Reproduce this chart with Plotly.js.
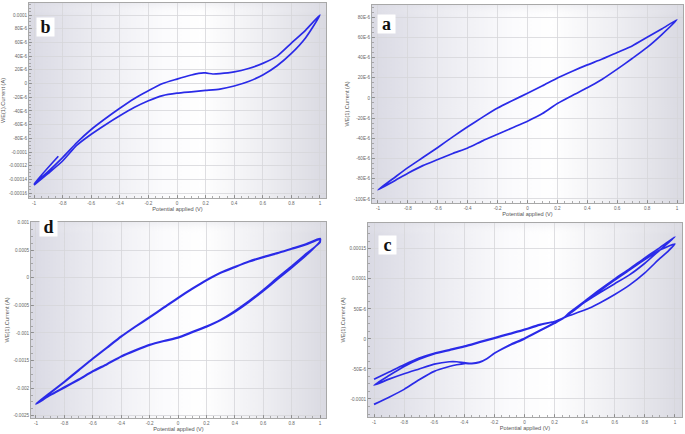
<!DOCTYPE html>
<html>
<head>
<meta charset="utf-8">
<script src="https://cdn.plot.ly/plotly-3.0.1.min.js"></script>
<style>html,body{margin:0;padding:0;background:#fff;}#chart{width:685px;height:434px;}</style>
</head>
<body>
<div id="chart"></div>
<script>
// ---------- DATA ----------
// Panel b
const bPot = [-0.83, -1, -0.9, -0.8, -0.7, -0.6, -0.5, -0.4, -0.3, -0.2, -0.1, 0, 0.1, 0.15, 0.2, 0.25, 0.3, 0.4, 0.5, 0.6, 0.7, 0.8, 0.9, 1,
              0.9, 0.8, 0.7, 0.6, 0.5, 0.4, 0.3, 0.2, 0.1, 0, -0.1, -0.2, -0.3, -0.4, -0.5, -0.6, -0.7, -0.8, -0.9, -1];
const bCur = [-106e-6, -146e-6, -128e-6, -108e-6, -86e-6, -67e-6, -51e-6, -36e-6, -22e-6, -10.5e-6, 0e-6, 6.5e-6, 12.5e-6, 15e-6, 15.5e-6, 14e-6, 14.5e-6, 17e-6, 22e-6, 29.5e-6, 40e-6, 59e-6, 78e-6, 100e-6,
              67e-6, 44e-6, 26e-6, 12.5e-6, 3e-6, -3.5e-6, -8e-6, -10e-6, -12e-6, -14e-6, -17.5e-6, -25e-6, -35e-6, -47e-6, -60e-6, -74e-6, -90e-6, -113e-6, -131e-6, -148e-6];

// Panel a
const aPot = [-1, -0.9, -0.8, -0.7, -0.6, -0.5, -0.4, -0.3, -0.2, -0.1, 0, 0.1, 0.2, 0.3, 0.4, 0.5, 0.6, 0.7, 0.8, 0.9, 1,
              0.9, 0.8, 0.7, 0.6, 0.5, 0.4, 0.3, 0.2, 0.1, 0, -0.1, -0.2, -0.3, -0.4, -0.5, -0.6, -0.7, -0.8, -0.9, -1];
const aCur = [-91e-6, -83e-6, -74.5e-6, -67e-6, -61e-6, -55e-6, -49.5e-6, -42.5e-6, -36e-6, -29.5e-6, -23e-6, -15.5e-6, -5.5e-6, 2.5e-6, 10e-6, 18.5e-6, 28.5e-6, 39e-6, 50e-6, 63e-6, 77.4e-6,
              68.5e-6, 60e-6, 51.5e-6, 45e-6, 38.5e-6, 32.7e-6, 26.5e-6, 19.8e-6, 12e-6, 4.6e-6, -2.5e-6, -10e-6, -19e-6, -28.5e-6, -38.5e-6, -49e-6, -59e-6, -69e-6, -80e-6, -91e-6];

// Panel d (two cycles)
const dPot = [-1, -0.9, -0.8, -0.7, -0.6, -0.5, -0.4, -0.3, -0.2, -0.1, 0, 0.1, 0.2, 0.3, 0.4, 0.5, 0.6, 0.7, 0.8, 0.9, 1,
              1, 0.9, 0.8, 0.7, 0.6, 0.5, 0.4, 0.3, 0.2, 0.1, 0, -0.1, -0.2, -0.3, -0.4, -0.5, -0.6, -0.7, -0.8, -0.9, -1,
              -0.9, -0.8, -0.7, -0.6, -0.5, -0.4, -0.3, -0.2, -0.1, 0, 0.1, 0.2, 0.3, 0.4, 0.5, 0.6, 0.7, 0.8, 0.9, 1,
              1, 0.9, 0.8, 0.7, 0.6, 0.5, 0.4, 0.3, 0.2, 0.1, 0, -0.1, -0.2, -0.3, -0.4, -0.5, -0.6, -0.7, -0.8, -0.9, -1];
const dCur = [-2.29e-3, -2.13e-3, -1.99e-3, -1.85e-3, -1.70e-3, -1.57e-3, -1.43e-3, -1.32e-3, -1.22e-3, -1.15e-3, -1.09e-3, -0.99e-3, -0.89e-3, -0.77e-3, -0.62e-3, -0.44e-3, -0.24e-3, -0.03e-3, 0.18e-3, 0.40e-3, 0.66e-3,
              0.71e-3, 0.61e-3, 0.53e-3, 0.45e-3, 0.38e-3, 0.30e-3, 0.20e-3, 0.095e-3, -0.04e-3, -0.195e-3, -0.36e-3, -0.535e-3, -0.71e-3, -0.88e-3, -1.06e-3, -1.26e-3, -1.46e-3, -1.67e-3, -1.88e-3, -2.08e-3, -2.28e-3,
              -2.12e-3, -1.98e-3, -1.84e-3, -1.69e-3, -1.56e-3, -1.42e-3, -1.31e-3, -1.21e-3, -1.14e-3, -1.08e-3, -0.98e-3, -0.88e-3, -0.76e-3, -0.60e-3, -0.42e-3, -0.22e-3, 0.0e-3, 0.21e-3, 0.43e-3, 0.64e-3,
              0.69e-3, 0.60e-3, 0.52e-3, 0.44e-3, 0.37e-3, 0.29e-3, 0.19e-3, 0.085e-3, -0.05e-3, -0.205e-3, -0.37e-3, -0.545e-3, -0.72e-3, -0.89e-3, -1.07e-3, -1.27e-3, -1.47e-3, -1.68e-3, -1.89e-3, -2.09e-3, -2.29e-3];

// Panel c (two cycles)
const cPot = [-1, -0.9, -0.8, -0.7, -0.6, -0.5, -0.45, -0.4, -0.35, -0.3, -0.25, -0.2, -0.1, 0, 0.1, 0.2, 0.25, 0.3, 0.4, 0.5, 0.6, 0.7, 0.8, 0.9, 1,
              0.9, 0.8, 0.7, 0.6, 0.5, 0.4, 0.3, 0.25, 0.2, 0.1, 0, -0.1, -0.2, -0.3, -0.4, -0.5, -0.6, -0.7, -0.8, -0.9, -1,
              -0.9, -0.8, -0.7, -0.6, -0.5, -0.45, -0.4, -0.35, -0.3, -0.25, -0.2, -0.1, 0, 0.1, 0.2, 0.25, 0.3, 0.4, 0.5, 0.6, 0.7, 0.8, 0.9, 1,
              0.95, 0.9, 0.8, 0.7, 0.6, 0.5, 0.4, 0.3, 0.25, 0.2, 0.1, 0, -0.1, -0.2, -0.3, -0.4, -0.5, -0.6, -0.7, -0.8, -0.9, -1];
const cCur = [-109e-6, -97e-6, -84e-6, -68e-6, -54e-6, -46e-6, -43e-6, -41e-6, -41e-6, -39e-6, -33e-6, -24e-6, -11e-6, 0, 13e-6, 26e-6, 33e-6, 44e-6, 63e-6, 82e-6, 100e-6, 117e-6, 135e-6, 152e-6, 170e-6,
              148e-6, 126e-6, 107e-6, 92e-6, 77e-6, 61e-6, 42e-6, 34e-6, 29e-6, 23e-6, 15e-6, 8e-6, 1e-6, -6e-6, -13e-6, -19e-6, -25e-6, -34e-6, -46e-6, -61e-6, -77e-6,
              -67e-6, -58e-6, -50e-6, -42e-6, -38e-6, -38e-6, -39.5e-6, -40.5e-6, -38.5e-6, -33e-6, -24e-6, -10e-6, 1e-6, 14e-6, 27e-6, 33e-6, 44e-6, 62e-6, 80e-6, 98e-6, 115e-6, 132e-6, 148e-6, 158e-6,
              145e-6, 134e-6, 110e-6, 90e-6, 74e-6, 60e-6, 48e-6, 39e-6, 34e-6, 29e-6, 24e-6, 16e-6, 9e-6, 2e-6, -5e-6, -12e-6, -18e-6, -24e-6, -32e-6, -43e-6, -55e-6, -67e-6];

// Tick labels
const xTickVals = [-1, -0.8, -0.6, -0.4, -0.2, 0, 0.2, 0.4, 0.6, 0.8, 1];
const xTickText = ['-1', '-0.8', '-0.6', '-0.4', '-0.2', '0', '0.2', '0.4', '0.6', '0.8', '1'];
const bTickVals = [-160e-6, -140e-6, -120e-6, -100e-6, -80e-6, -60e-6, -40e-6, -20e-6, 0, 20e-6, 40e-6, 60e-6, 80e-6, 100e-6];
const bTickText = ['-0.00016', '-0.00014', '-0.00012', '-0.0001', '-80E-6', '-60E-6', '-40E-6', '-20E-6', '0', '20E-6', '40E-6', '60E-6', '80E-6', '0.0001'];
const aTickVals = [-100e-6, -80e-6, -60e-6, -40e-6, -20e-6, 0, 20e-6, 40e-6, 60e-6, 80e-6];
const aTickText = ['-100E-6', '-80E-6', '-60E-6', '-40E-6', '-20E-6', '0', '20E-6', '40E-6', '60E-6', '80E-6'];
const dTickVals = [-0.0025, -0.002, -0.0015, -0.001, -0.0005, 0, 0.0005, 0.001];
const dTickText = ['-0.0025', '-0.002', '-0.0015', '-0.001', '-0.0005', '0', '0.0005', '0.001'];
const cTickVals = [-100e-6, -50e-6, 0, 50e-6, 100e-6, 150e-6];
const cTickText = ['-0.0001', '-50E-6', '0', '50E-6', '0.0001', '0.00015'];

const panelLetters = ['b', 'a', 'd', 'c'];
const xTitle = 'Potential applied (V)';
const yTitle = 'WE(1).Current (A)';

// ---------- STYLE ----------
const lineColor = '#2a2ae8';
const tickFont = {family: 'Liberation Sans, Arial, sans-serif', size: 4.6, color: '#666'};
const titleFont = {family: 'Liberation Sans, Arial, sans-serif', size: 5.6, color: '#555'};

// gradient background image
function gradientURL() {
  const cv = document.createElement('canvas');
  cv.width = 400; cv.height = 200;
  const ctx = cv.getContext('2d');
  const g = ctx.createLinearGradient(0, 0, 400, 0);
  g.addColorStop(0, '#dadae4');
  g.addColorStop(0.2, '#eaeaf0');
  g.addColorStop(0.45, '#fbfbfd');
  g.addColorStop(0.58, '#ffffff');
  g.addColorStop(0.78, '#efeff3');
  g.addColorStop(1, '#dadae2');
  ctx.fillStyle = g;
  ctx.fillRect(0, 0, 400, 200);
  const v = ctx.createLinearGradient(0, 0, 0, 200);
  v.addColorStop(0, 'rgba(220,220,228,0.35)');
  v.addColorStop(0.06, 'rgba(255,255,255,0)');
  v.addColorStop(1, 'rgba(255,255,255,0)');
  ctx.fillStyle = v;
  ctx.fillRect(0, 0, 400, 200);
  return cv.toDataURL('image/png');
}
const bgURL = gradientURL();

function xAx(domain, range, anchor) {
  return {
    domain: domain, range: range, anchor: anchor,
    tickvals: xTickVals, ticktext: xTickText, tickfont: tickFont,
    ticks: 'inside', ticklen: 3, tickcolor: '#888', tickwidth: 0.8,
    minor: {dtick: 0.05, ticks: 'inside', ticklen: 1.6, tickcolor: '#999', showgrid: false},
    showgrid: true, gridcolor: '#d6d6da', gridwidth: 0.8,
    zeroline: false, showline: true, mirror: true, linecolor: '#a8a8a8', linewidth: 1,
    title: {text: xTitle, font: titleFont, standoff: 1},
    automargin: false, fixedrange: true
  };
}
function yAx(domain, range, anchor, vals, text, minorDt) {
  return {
    domain: domain, range: range, anchor: anchor,
    tickvals: vals, ticktext: text, tickfont: tickFont,
    ticks: 'inside', ticklen: 3, tickcolor: '#888', tickwidth: 0.8,
    minor: {dtick: minorDt, ticks: 'inside', ticklen: 1.6, tickcolor: '#999', showgrid: false},
    showgrid: true, gridcolor: '#d6d6da', gridwidth: 0.8,
    zeroline: false, showline: true, mirror: true, linecolor: '#a8a8a8', linewidth: 1,
    title: {text: yTitle, font: titleFont, standoff: 3},
    automargin: false, fixedrange: true
  };
}

const W = 685, H = 434;
const px = (a, b) => [a / W, b / W];
const py = (top, bottom) => [1 - bottom / H, 1 - top / H];

const domB = {x: px(29, 326), y: py(3, 198)};
const domA = {x: px(372, 683), y: py(5, 203)};
const domD = {x: px(31, 326), y: py(222, 418)};
const domC = {x: px(368, 682), y: py(223, 417)};

function tr(x, y, xa, ya) {
  return {x: x, y: y, xaxis: xa, yaxis: ya, type: 'scatter', mode: 'lines',
          line: {color: lineColor, width: 1.7, shape: 'spline', smoothing: 0.6},
          hoverinfo: 'skip', showlegend: false};
}

const data = [
  tr(bPot, bCur, 'x', 'y'),
  tr(aPot, aCur, 'x2', 'y2'),
  tr(dPot, dCur, 'x3', 'y3'),
  tr(cPot, cCur, 'x4', 'y4')
];

function img(xr, yr) {
  return {source: bgURL, xref: xr + ' domain', yref: yr + ' domain', x: 0, y: 1, sizex: 1, sizey: 1,
          xanchor: 'left', yanchor: 'top', sizing: 'stretch', layer: 'below'};
}
function letter(t, cx, cy) {
  return {text: '<b>' + t + '</b>', xref: 'paper', yref: 'paper', x: cx / W, y: 1 - cy / H,
          xanchor: 'center', yanchor: 'middle', showarrow: false, bgcolor: '#ffffff',
          width: 17, height: 18, borderpad: 0,
          font: {family: 'Liberation Serif, Times New Roman, serif', size: 18, color: '#111'}};
}

const layout = {
  width: W, height: H,
  margin: {l: 0, r: 0, t: 0, b: 0},
  paper_bgcolor: '#ffffff', plot_bgcolor: 'rgba(0,0,0,0)',
  showlegend: false,
  xaxis: xAx(domB.x, [-1.035, 1.042], 'y'),
  yaxis: yAx(domB.y, [-167e-6, 117.6e-6], 'x', bTickVals, bTickText, 5e-6),
  xaxis2: xAx(domA.x, [-1.04, 1.04], 'y2'),
  yaxis2: yAx(domA.y, [-104e-6, 92e-6], 'x2', aTickVals, aTickText, 5e-6),
  xaxis3: xAx(domD.x, [-1.035, 1.042], 'y3'),
  yaxis3: yAx(domD.y, [-0.00254, 0.00101], 'x3', dTickVals, dTickText, 0.000125),
  xaxis4: xAx(domC.x, [-1.04, 1.047], 'y4'),
  yaxis4: yAx(domC.y, [-130e-6, 193e-6], 'x4', cTickVals, cTickText, 12.5e-6),
  images: [img('x', 'y'), img('x2', 'y2'), img('x3', 'y3'), img('x4', 'y4')],
  annotations: [
    letter(panelLetters[0], 45, 26.5),
    letter(panelLetters[1], 387, 24),
    letter(panelLetters[2], 48, 227),
    letter(panelLetters[3], 387.5, 245)
  ]
};

Plotly.newPlot('chart', data, layout, {displayModeBar: false, staticPlot: true});
</script>
</body>
</html>
